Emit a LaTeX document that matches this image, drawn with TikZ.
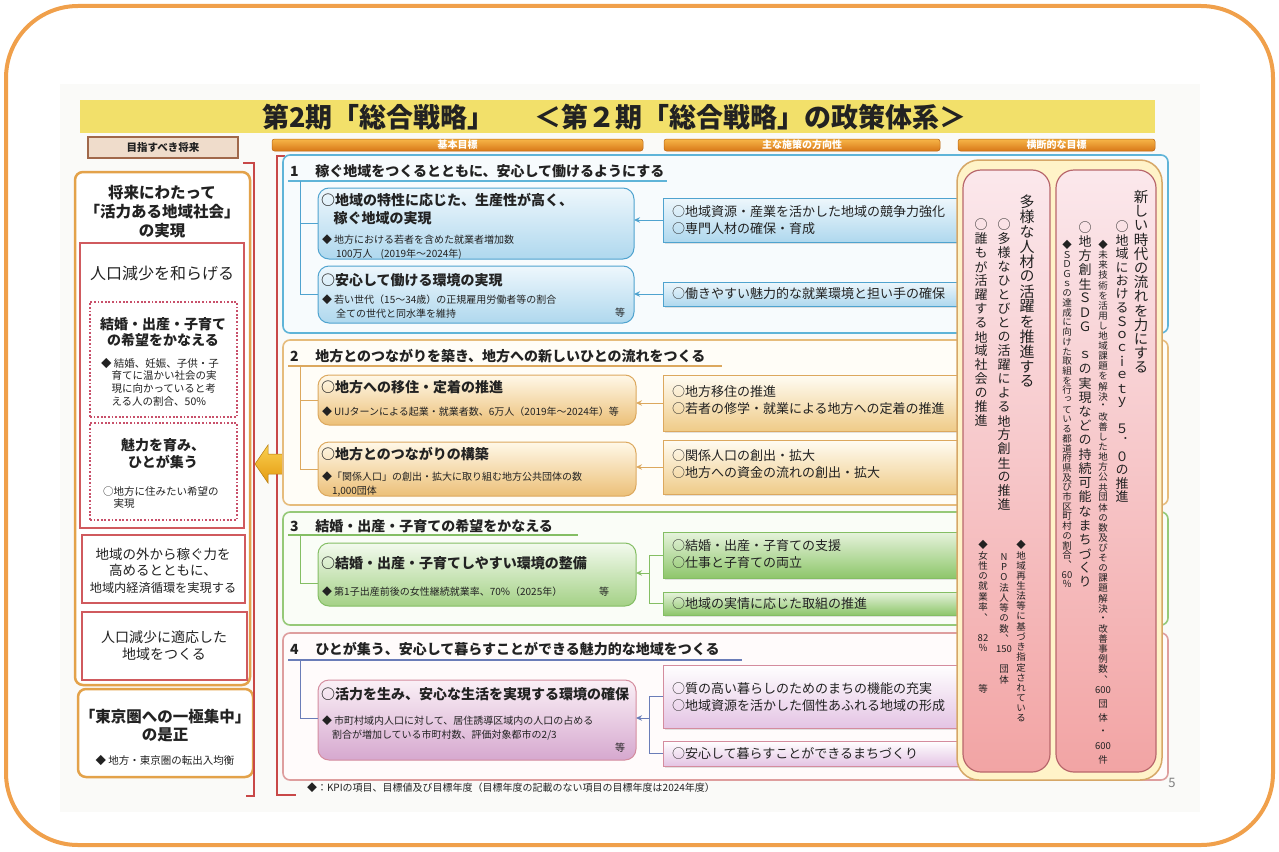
\documentclass[tikz,border=0pt]{standalone}
\usepackage{fontspec}
\setmainfont{Noto Sans CJK JP}
\newfontfamily\tatefont{Noto Sans CJK JP}[RawFeature=+vert]
\usetikzlibrary{arrows.meta,shadows,fit}
\newcommand\fs[2]{\fontsize{#1}{#2}\selectfont}
\definecolor{txt}{HTML}{222222}
\definecolor{frameor}{HTML}{F0A04B}
\definecolor{pagebg}{HTML}{FAFAF8}
\definecolor{titley}{HTML}{F2E06A}
\definecolor{hdrA}{HTML}{F7B548}
\definecolor{hdrB}{HTML}{D87818}
\definecolor{futfl}{HTML}{EFDCCB}
\definecolor{futbd}{HTML}{A0684A}
\definecolor{leftbd}{HTML}{E3A24A}
\definecolor{redbd}{HTML}{D05A5E}
\definecolor{dotred}{HTML}{C8506A}
\definecolor{brk}{HTML}{C84848}
\definecolor{goldA}{HTML}{FAD050}
\definecolor{goldB}{HTML}{E49A10}
\definecolor{g1bd}{HTML}{5FB4D8}
\definecolor{g1fl}{HTML}{F7FBFD}
\definecolor{s1A}{HTML}{EEF7FC}
\definecolor{s1B}{HTML}{AFD8EE}
\definecolor{s1bd}{HTML}{4FA3CF}
\definecolor{g2bd}{HTML}{E6BC7C}
\definecolor{g2fl}{HTML}{FFFDF7}
\definecolor{s2A}{HTML}{FFF8E8}
\definecolor{s2B}{HTML}{ECC078}
\definecolor{s2bd}{HTML}{DCA85E}
\definecolor{p2A}{HTML}{FFFCF3}
\definecolor{p2B}{HTML}{EFCB88}
\definecolor{g3bd}{HTML}{96C978}
\definecolor{g3fl}{HTML}{FAFDF7}
\definecolor{s3A}{HTML}{F3FAEE}
\definecolor{s3B}{HTML}{A4D186}
\definecolor{s3bd}{HTML}{84BE64}
\definecolor{p3A}{HTML}{E6F3DC}
\definecolor{p3B}{HTML}{8EC66B}
\definecolor{g4bd}{HTML}{DE9E9E}
\definecolor{g4fl}{HTML}{FFFBFB}
\definecolor{g4ul}{HTML}{6A7DB8}
\definecolor{s4A}{HTML}{FAF0F6}
\definecolor{s4B}{HTML}{D6A8CF}
\definecolor{s4bd}{HTML}{D48C9E}
\definecolor{p4A}{HTML}{FFFFFF}
\definecolor{p4B}{HTML}{E4C4E4}
\definecolor{crossfl}{HTML}{FFF3C8}
\definecolor{crossbd}{HTML}{D6A767}
\definecolor{pinkA}{HTML}{FBE8EC}
\definecolor{pinkB}{HTML}{F2A4A4}
\definecolor{pinkbd}{HTML}{B8676C}
% vertical (tategaki) stacking
\newdimen\tpitch
\def\tateend{TATEEND}
\def\tsp{}
\def\tateA#1{\ifx\tateend#1\else\tchar{#1}\expandafter\tateA\fi}
\newcommand\tchar[1]{\hbox to 3em{\hss\vbox to\tpitch{\vss\hbox{#1}\vss}\hss}}
\newcommand\tate[2]{\vbox{\offinterlineskip\tpitch=#1\relax\tateA#2\tateend}}
\begin{document}
\begin{tikzpicture}[x=1pt,y=-1pt,
  every node/.style={inner sep=0pt,outer sep=0pt,text=txt},
  frame/.style={draw=frameor,line width=4pt,rounded corners=72pt},
  hdr/.style={rounded corners=2.5pt,top color=hdrA,bottom color=hdrB,draw=hdrB!85!black,line width=.5pt},
  hdrtxt/.style={text=white,font=\bfseries\fs{10}{12}},
  redbox/.style={draw=redbd,line width=1.3pt,fill=white},
  dotbox/.style={draw=dotred,line width=2.2pt,dash pattern=on 1.8pt off 1.8pt},
  goal/.style={line width=1.6pt,rounded corners=7pt},
  sub/.style={line width=1pt,rounded corners=11pt},
  pol/.style={line width=.9pt,drop shadow={opacity=.22,shadow xshift=1.5pt,shadow yshift=-1.5pt}},
  gtitle/.style={font=\bfseries\fs{14}{16}},
  shead/.style={font=\bfseries\fs{14}{18}},
  kpi/.style={font=\fs{10}{13.5}},
  ptxt/.style={font=\fs{13}{17}},
  arr/.style={-{Stealth[length=6pt,width=5.5pt]},line width=1pt},
  conn/.style={line width=1pt},
  ul/.style={line width=2.2pt},
  brkline/.style={draw=brk,line width=2.4pt},
  vt/.style={anchor=north,font=\tatefont}
]
\useasboundingbox (0,0) rectangle (1279,851);
\fill[pagebg] (60,84) rectangle (1200,812);
\draw[frame] (6,6) rectangle (1273,845);

% title
\node[fill=titley,fit={(80,100)(1155,133)}] (tbar) {};
\node[font=\bfseries\fs{27}{30},anchor=west] (title) at (262,117) {第2期「総合戦略」\hspace{1.5em}＜第２期「総合戦略」の政策体系＞};

% headers
\node[fill=futfl,draw=futbd,line width=1.5pt,fit={(88,137)(238,158)},drop shadow={opacity=.25,shadow xshift=1pt,shadow yshift=-1pt}] (hfut) {};
\node[font=\bfseries\fs{10.5}{12}] (hfutt) at (hfut.center) {目指すべき将来};
\node[hdr,fit={(272,139)(643,151)}] (h1) {};
\node[hdrtxt] (h1t) at (h1.center) {基本目標};
\node[hdr,fit={(664,139)(940,151)}] (h2) {};
\node[hdrtxt] (h2t) at (h2.center) {主な施策の方向性};
\node[hdr,fit={(958,139)(1155,151)}] (h3) {};
\node[hdrtxt] (h3t) at (h3.center) {横断的な目標};

% left column
\node[draw=leftbd,line width=2.5pt,rounded corners=8pt,fill=white,fit={(75,172)(250,685)}] (lcol) {};
\node[font=\bfseries\fs{15.5}{19},align=center,anchor=north] (lhead) at (162,185) {将来にわたって\\「活力ある地域社会」\\の実現};
\node[redbox,fit={(80,243)(244,528)}] (lred) {};
\node[font=\fs{16}{18}] (lmit) at (162,273) {人口減少を和らげる};
\node[dotbox,fit={(90,302)(237,417)}] (ld1) {};
\node[font=\bfseries\fs{14}{16.5},align=center,anchor=north] (ld1h) at (163,317) {結婚・出産・子育て\\の希望をかなえる};
\node[font=\fs{10.5}{12.7},align=left,anchor=north west] (ld1k) at (101,358) {◆ 結婚、妊娠、子供・子\\\hspace{1em}育てに温かい社会の実\\\hspace{1em}現に向かっていると考\\\hspace{1em}える人の割合、50\%};
\node[dotbox,fit={(90,423)(237,520)}] (ld2) {};
\node[font=\bfseries\fs{14}{17},align=center,anchor=north] (ld2h) at (163,438) {魅力を育み、\\ひとが集う};
\node[font=\fs{10.5}{12},align=left,anchor=north west] (ld2k) at (103,487) {○地方に住みたい希望の\\\hspace{1em}実現};
\node[redbox,fit={(82,535)(245,603)}] (lr3) {};
\node[font=\fs{13.5}{16.5},align=center,anchor=north] (lr3t) at (163,548) {地域の外から稼ぐ力を\\高めるとともに、\\{\fs{12.2}{16.5}地域内経済循環を実現する}};
\node[redbox,fit={(82,612)(247,680)}] (lr4) {};
\node[font=\fs{14}{17},align=center,anchor=north] (lr4t) at (164,631) {人口減少に適応した\\地域をつくる};
\node[draw=leftbd,line width=2.5pt,rounded corners=8pt,fill=white,fit={(78,689)(253,777)}] (lr5) {};
\node[font=\bfseries\fs{15.5}{18},align=center,anchor=north] (lr5t) at (165,709) {「東京圏への一極集中」\\の是正};
\node[font=\fs{10.5}{12}] (lr5k) at (165,760) {◆ 地方・東京圏の転出入均衡};

% brackets
\coordinate (bA1) at (243,163); \coordinate (bA2) at (254,163);
\coordinate (bA3) at (254,796); \coordinate (bA4) at (246,796);
\draw[brkline] (bA1) -- (bA2) -- (bA3) -- (bA4);
\coordinate (bB1) at (285,156); \coordinate (bB2) at (277,156);
\coordinate (bB3) at (277,795); \coordinate (bB4) at (296,795);
\draw[brkline] (bB1) -- (bB2) -- (bB3) -- (bB4);

% gold arrow
\shade[top color=goldA,bottom color=goldB,draw=goldB!80!black,line width=.5pt]
  (255,464) -- (268,445) -- (268,454) -- (283,454) -- (283,474) -- (268,474) -- (268,483) -- cycle;

% ---------- goal 1
\node[goal,draw=g1bd,fill=g1fl,fit={(283,155)(1168,333)}] (g1) {};
\node[gtitle,anchor=west] (g1t) at (290,171) {1\hspace{1.2em}稼ぐ地域をつくるとともに、安心して働けるようにする};
\coordinate (u1a) at (288,181); \coordinate (u1b) at (667,181);
\draw[ul,g1bd] (u1a) -- (u1b);
\node[sub,draw=s1bd,top color=s1A,bottom color=s1B,fit={(318,188)(634,259)}] (s1a) {};
\node[shead,align=left,anchor=north west] (s1ah) at (321,193) {○地域の特性に応じた、生産性が高く、\\\hspace{0.9em}稼ぐ地域の実現};
\node[kpi,align=left,anchor=north west] (s1ak) at (322,235) {◆ 地方における若者を含めた就業者増加数\\\hspace{1.4em}100万人\hspace{0.8em}(2019年〜2024年)};
\node[sub,draw=s1bd,top color=s1A,bottom color=s1B,fit={(318,266)(634,323)}] (s1b) {};
\node[shead,anchor=west] (s1bh) at (321,280) {○安心して働ける環境の実現};
\node[kpi,align=left,anchor=north west] (s1bk) at (322,295) {◆ 若い世代（15〜34歳）の正規雇用労働者等の割合\\\hspace{1.4em}全ての世代と同水準を維持};
\node[kpi] (s1be) at (620,313) {等};
\node[pol,draw=s1bd,top color=s1A,bottom color=s1B,fit={(663,198)(975,242)}] (p1c) {};
\node[ptxt,align=left,anchor=north west] (p1ct) at (672,206) {○地域資源・産業を活かした地域の競争力強化\\○専門人材の確保・育成};
\node[pol,draw=s1bd,top color=s1A,bottom color=s1B,fit={(663,282)(975,306)}] (p1d) {};
\node[ptxt,anchor=west] (p1dt) at (672,294) {○働きやすい魅力的な就業環境と担い手の確保};
\coordinate (t1) at (300,181);
\draw[conn,s1bd] (t1) |- (s1a.west);
\draw[conn,s1bd] (t1) |- (s1b.west);
\draw[arr,s1bd] (p1c.west) -- (p1c.west -| s1a.east);
\draw[arr,s1bd] (p1d.west) -- (p1d.west -| s1b.east);

% ---------- goal 2
\node[goal,draw=g2bd,fill=g2fl,fit={(283,340)(1168,505)}] (g2) {};
\node[gtitle,anchor=west] (g2t) at (290,356) {2\hspace{1.2em}地方とのつながりを築き、地方への新しいひとの流れをつくる};
\coordinate (u2a) at (288,366); \coordinate (u2b) at (722,366);
\draw[ul,s2bd] (u2a) -- (u2b);
\node[sub,draw=s2bd,top color=s2A,bottom color=s2B,fit={(318,375)(636,425)}] (s2a) {};
\node[shead,anchor=west] (s2ah) at (321,387) {○地方への移住・定着の推進};
\node[kpi,anchor=west] (s2ak) at (322,412) {◆ UIJターンによる起業・就業者数、6万人（2019年〜2024年）等};
\node[sub,draw=s2bd,top color=s2A,bottom color=s2B,fit={(318,442)(636,496)}] (s2b) {};
\node[shead,anchor=west] (s2bh) at (321,454) {○地方とのつながりの構築};
\node[kpi,align=left,anchor=north west] (s2bk) at (322,472) {◆「関係人口」の創出・拡大に取り組む地方公共団体の数\\\hspace{1em}1,000団体};
\node[pol,draw=s2bd,top color=p2A,bottom color=p2B,fit={(663,375)(975,431)}] (p2c) {};
\node[ptxt,align=left,anchor=north west] (p2ct) at (672,386) {○地方移住の推進\\○若者の修学・就業による地方への定着の推進};
\node[pol,draw=s2bd,top color=p2A,bottom color=p2B,fit={(663,440)(975,494)}] (p2d) {};
\node[ptxt,align=left,anchor=north west] (p2dt) at (672,450) {○関係人口の創出・拡大\\○地方への資金の流れの創出・拡大};
\coordinate (t2) at (300,366);
\draw[conn,s2bd] (t2) |- (s2a.west);
\draw[conn,s2bd] (t2) |- (s2b.west);
\draw[arr,s2bd] (p2c.west) -- (p2c.west -| s2a.east);
\draw[arr,s2bd] (p2d.west) -- (p2d.west -| s2b.east);

% ---------- goal 3
\node[goal,draw=g3bd,fill=g3fl,fit={(283,512)(1168,625)}] (g3) {};
\node[gtitle,anchor=west] (g3t) at (290,526) {3\hspace{1.2em}結婚・出産・子育ての希望をかなえる};
\coordinate (u3a) at (288,535); \coordinate (u3b) at (578,535);
\draw[ul,s3bd] (u3a) -- (u3b);
\node[sub,draw=s3bd,top color=s3A,bottom color=s3B,fit={(318,543)(636,606)}] (s3a) {};
\node[shead,anchor=west] (s3ah) at (321,563) {○結婚・出産・子育てしやすい環境の整備};
\node[kpi,anchor=west] (s3ak) at (322,592) {◆ 第1子出産前後の女性継続就業率、70\%（2025年）};
\node[kpi] (s3ae) at (604,592) {等};
\node[pol,draw=s3bd,top color=p3A,bottom color=p3B,fit={(663,532)(975,578)}] (p3b) {};
\node[ptxt,align=left,anchor=north west] (p3bt) at (672,540) {○結婚・出産・子育ての支援\\○仕事と子育ての両立};
\node[pol,draw=s3bd,top color=p3A,bottom color=p3B,fit={(663,592)(975,615)}] (p3c) {};
\node[ptxt,anchor=west] (p3ct) at (672,604) {○地域の実情に応じた取組の推進};
\coordinate (t3) at (300,535); \coordinate (t3b) at (318,583);
\draw[conn,s3bd] (t3) |- (t3b);
\coordinate (j3) at (649,573);
\draw[conn,s3bd] (p3b.west) -| (j3);
\draw[conn,s3bd] (p3c.west) -| (j3);
\draw[arr,s3bd] (j3) -- (j3 -| s3a.east);

% ---------- goal 4
\node[goal,draw=g4bd,fill=g4fl,fit={(283,633)(1168,780)}] (g4) {};
\node[gtitle,anchor=west] (g4t) at (290,649) {4\hspace{1.2em}ひとが集う、安心して暮らすことができる魅力的な地域をつくる};
\coordinate (u4a) at (288,660); \coordinate (u4b) at (742,660);
\draw[ul,g4ul] (u4a) -- (u4b);
\node[sub,draw=s4bd,top color=s4A,bottom color=s4B,fit={(318,680)(636,760)}] (s4a) {};
\node[shead,anchor=west] (s4ah) at (321,694) {○活力を生み、安心な生活を実現する環境の確保};
\node[kpi,align=left,anchor=north west] (s4ak) at (322,716) {◆ 市町村域内人口に対して、居住誘導区域内の人口の占める\\\hspace{1em}割合が増加している市町村数、評価対象都市の2/3};
\node[kpi] (s4ae) at (620,748) {等};
\node[pol,draw=s4bd,top color=p4A,bottom color=p4B,fit={(663,665)(975,728)}] (p4b) {};
\node[ptxt,align=left,anchor=north west] (p4bt) at (672,683) {○質の高い暮らしのためのまちの機能の充実\\○地域資源を活かした個性あふれる地域の形成};
\node[pol,draw=s4bd,top color=p4A,bottom color=p4B,fit={(663,741)(975,766)}] (p4c) {};
\node[ptxt,anchor=west] (p4ct) at (672,754) {○安心して暮らすことができるまちづくり};
\coordinate (t4) at (300,660); \coordinate (t4b) at (318,718);
\draw[conn,g4ul] (t4) |- (t4b);
\coordinate (j4) at (649,718);
\draw[conn,g4ul] (p4b.west) -| (j4);
\draw[conn,g4ul] (p4c.west) -| (j4);
\draw[arr,g4ul] (j4) -- (j4 -| s4a.east);

% footer
\node[font=\fs{10}{12},anchor=west] (foot) at (307,788) {◆：KPIの項目、目標値及び目標年度（目標年度の記載のない項目の目標年度は2024年度）};
\node[font=\fs{13}{14},text=gray] (pg) at (1172,783) {5};

% ---------- cross-cutting goals
\node[draw=crossbd,line width=1.5pt,fill=crossfl,rounded corners=22pt,fit={(957,160)(1162,780)}] (cross) {};
\node[draw=pinkbd,line width=1.2pt,top color=pinkA,bottom color=pinkB,rounded corners=18pt,fit={(963,170)(1050,772)}] (cpL) {};
\node[draw=pinkbd,line width=1.2pt,top color=pinkA,bottom color=pinkB,rounded corners=18pt,fit={(1056,170)(1156,772)}] (cpR) {};

\node[vt,font=\tatefont\fs{14.5}{15}] (r1) at (1141,190) {\tate{14.2pt}{新しい時代の流れを力にする}};
\node[vt,font=\tatefont\fs{13}{14}] (r2) at (1122,220) {\tate{13.5pt}{○地域におけるＳｏｃｉｅｔｙ\tsp ５．０の推進}};
\node[vt,font=\tatefont\fs{9.5}{10}] (r3) at (1103,240) {\tate{10.1pt}{◆未来技術を活用し地域課題を解決・改善した地方公共団体の数及びその課題解決・改善事例数、}};
\node[vt,font=\tatefont\fs{9.5}{10}] (r3b) at (1103,683) {\tate{14pt}{{600}団体・{600}件}};
\node[vt,font=\tatefont\fs{13}{14}] (r4) at (1085,220) {\tate{14.2pt}{○地方創生ＳＤＧ\tsp ｓの実現などの持続可能なまちづくり}};
\node[vt,font=\tatefont\fs{9.5}{10}] (r5) at (1067,240) {\tate{9.7pt}{◆ＳＤＧｓの達成に向けた取組を行っている都道府県及び市区町村の割合、{60}％}};

\node[vt,font=\tatefont\fs{15}{16}] (l1) at (1027,194) {\tate{15pt}{多様な人材の活躍を推進する}};
\node[vt,font=\tatefont\fs{13}{14}] (l2) at (1004,218) {\tate{14pt}{○多様なひとびとの活躍による地方創生の推進}};
\node[vt,font=\tatefont\fs{13}{14}] (l3) at (981,218) {\tate{14pt}{○誰もが活躍する地域社会の推進}};
\node[vt,font=\tatefont\fs{9.5}{10}] (l4) at (1021,540) {\tate{10.2pt}{◆地域再生法等に基づき指定されている}};
\node[vt,font=\tatefont\fs{9.5}{10}] (l5) at (1004,552) {\tate{10.2pt}{NPO法人等の数、{150}\tsp 団体}};
\node[vt,font=\tatefont\fs{9.5}{10}] (l6) at (983,540) {\tate{10.3pt}{◆女性の就業率、\tsp{82}％\tsp\tsp\tsp 等}};
\end{tikzpicture}
\end{document}
